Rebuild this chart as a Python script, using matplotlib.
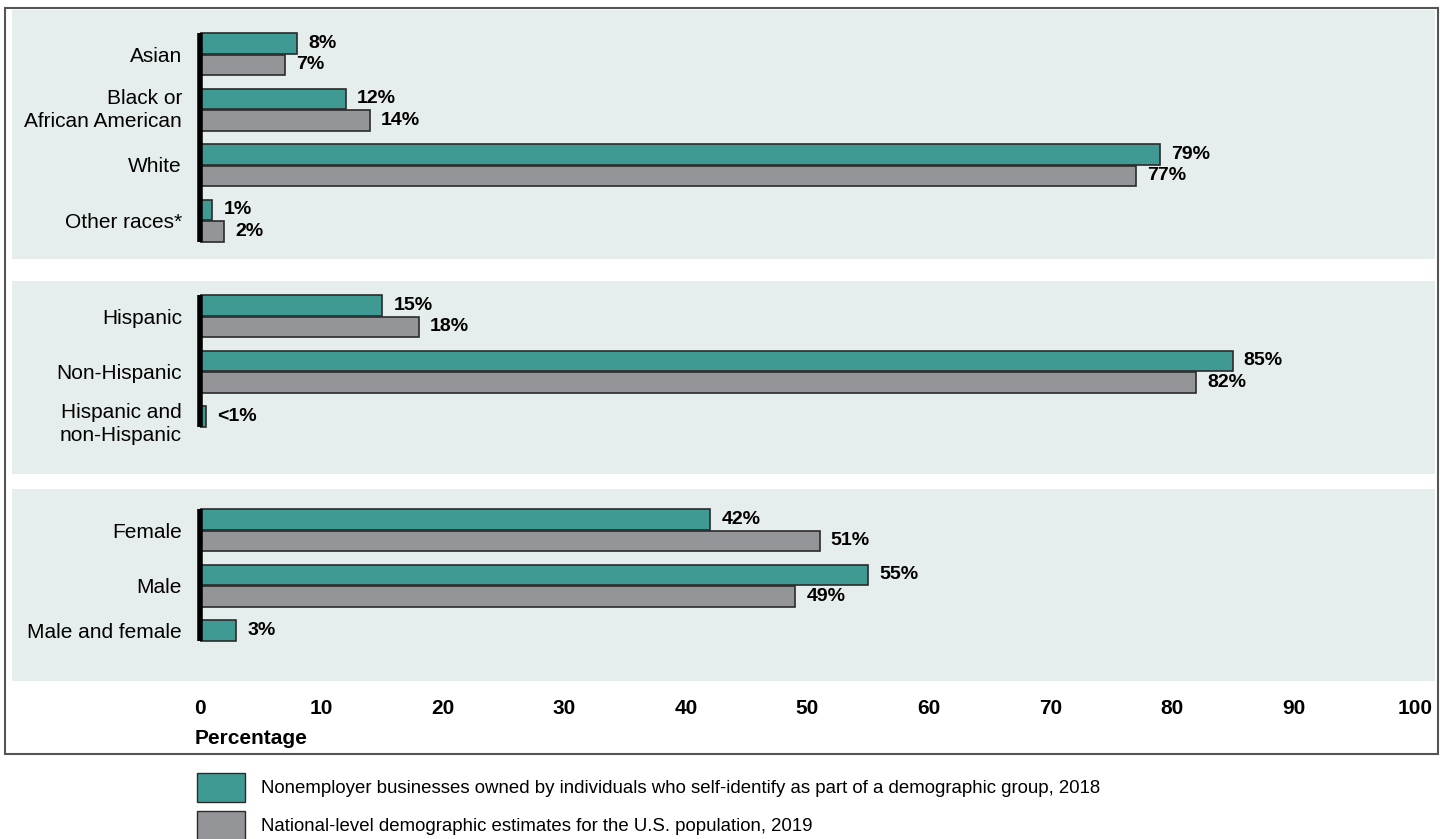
import numpy as np
import matplotlib.pyplot as plt
from matplotlib.patches import Rectangle, Patch

# data, one list per panel
race_cats = ["Asian", "Black or\nAfrican American", "White", "Other races*"]
race_biz = [8, 12, 79, 1]
race_pop = [7, 14, 77, 2]

eth_cats = ["Hispanic", "Non-Hispanic", "Hispanic and\nnon-Hispanic"]
eth_biz = [15, 85, 0.5]
eth_pop = [18, 82, None]

sex_cats = ["Female", "Male", "Male and female"]
sex_biz = [42, 55, 3]
sex_pop = [51, 49, None]

legend_labels = [
    "Nonemployer businesses owned by individuals who self-identify as part of a demographic group, 2018",
    "National-level demographic estimates for the U.S. population, 2019",
]

teal = "#3f9a94"
grey = "#939598"
panel_bg = "#e6eeed"
edge = "#2b2b2b"

W, H = 1445, 839
fig = plt.figure(figsize=(W / 100, H / 100), dpi=100)

# axes starts at the zero line; y data runs in pixels from the top
ax_top, ax_bot, ax_left, ax_right, bg_left = 10, 681, 200, 1435, 12
ax = fig.add_axes([ax_left / W, 1 - ax_bot / H, (ax_right - ax_left) / W, (ax_bot - ax_top) / H])
ax.set_facecolor("none")
px = 12.15  # pixels per percentage point
ax.set_xlim(0, (ax_right - ax_left) / px)
ax.set_ylim(ax_bot, ax_top)

# panel backgrounds (reach left past the axes)
panels = [(10, 259), (281, 474), (489, 681)]
bg_x0 = (bg_left - ax_left) / (ax_right - ax_left)
for top, bot in panels:
    ax.axhspan(top, bot, xmin=bg_x0, xmax=1, color=panel_bg, zorder=0, lw=0, clip_on=False)

groups = [
    (race_cats, race_biz, race_pop, 54),
    (eth_cats, eth_biz, eth_pop, 316),
    (sex_cats, sex_biz, sex_pop, 530),
]
step = 55.5
bh = 20.5
off = 10.75
lab_font = dict(fontsize=14, fontweight="bold", family="Liberation Sans")

ticks, tick_labels = [], []
for cats, biz, pop, start in groups:
    ys = start + step * np.arange(len(cats))
    y_first = ys[0] - off - bh / 2
    y_last = None
    for c, y, b, p in zip(cats, ys, biz, pop):
        ax.barh(y - off, b, height=bh, color=teal, edgecolor=edge, lw=1.2, zorder=2)
        lab = "<1%" if b < 1 else f"{b:g}%"
        ax.annotate(lab, (b, y - off), xytext=(8, 0), textcoords="offset points",
                    va="center", ha="left", **lab_font)
        if p is not None:
            ax.barh(y + off, p, height=bh, color=grey, edgecolor=edge, lw=1.2, zorder=2)
            ax.annotate(f"{p:g}%", (p, y + off), xytext=(8, 0), textcoords="offset points",
                        va="center", ha="left", **lab_font)
            ticks.append(y - (3.5 if "\n" in c else 0))
            y_last = y + off + bh / 2
        else:
            ticks.append(y - off + (4 if "\n" in c else 0))
            y_last = y - off + bh / 2
        tick_labels.append(c)
    ax.vlines(0, y_first, y_last, color="black", lw=4, zorder=3, clip_on=False)

ax.set_yticks(ticks)
ax.set_yticklabels(tick_labels, fontsize=15, family="Liberation Sans", linespacing=1.25)
ax.tick_params(axis="y", length=0, pad=13)

ax.set_xticks(np.arange(0, 101, 10))
ax.set_xticklabels([str(v) for v in range(0, 101, 10)], fontsize=15, fontweight="bold",
                   family="Liberation Sans")
ax.tick_params(axis="x", length=0, pad=13)
for s in ax.spines.values():
    s.set_visible(False)

fig.text(195 / W, 1 - 739 / H, "Percentage", fontsize=15, fontweight="bold",
         family="Liberation Sans", va="center", ha="left")

# outer frame
fig.add_artist(Rectangle((5 / W, 1 - 754 / H), (1438 - 5) / W, (754 - 8) / H,
                         transform=fig.transFigure, fill=False, edgecolor="#555555", lw=1.5))

handles = [Patch(facecolor=teal, edgecolor=edge, lw=1.0),
           Patch(facecolor=grey, edgecolor=edge, lw=1.0)]
fig.legend(handles, legend_labels, loc="upper left", bbox_to_anchor=(197 / W, 1 - 773 / H),
           frameon=False, borderpad=0, borderaxespad=0, handlelength=2.58, handleheight=2.02,
           handletextpad=0.86, labelspacing=0.48, prop={"family": "Liberation Sans", "size": 13.4})

fig.savefig("out.png", dpi=100)
